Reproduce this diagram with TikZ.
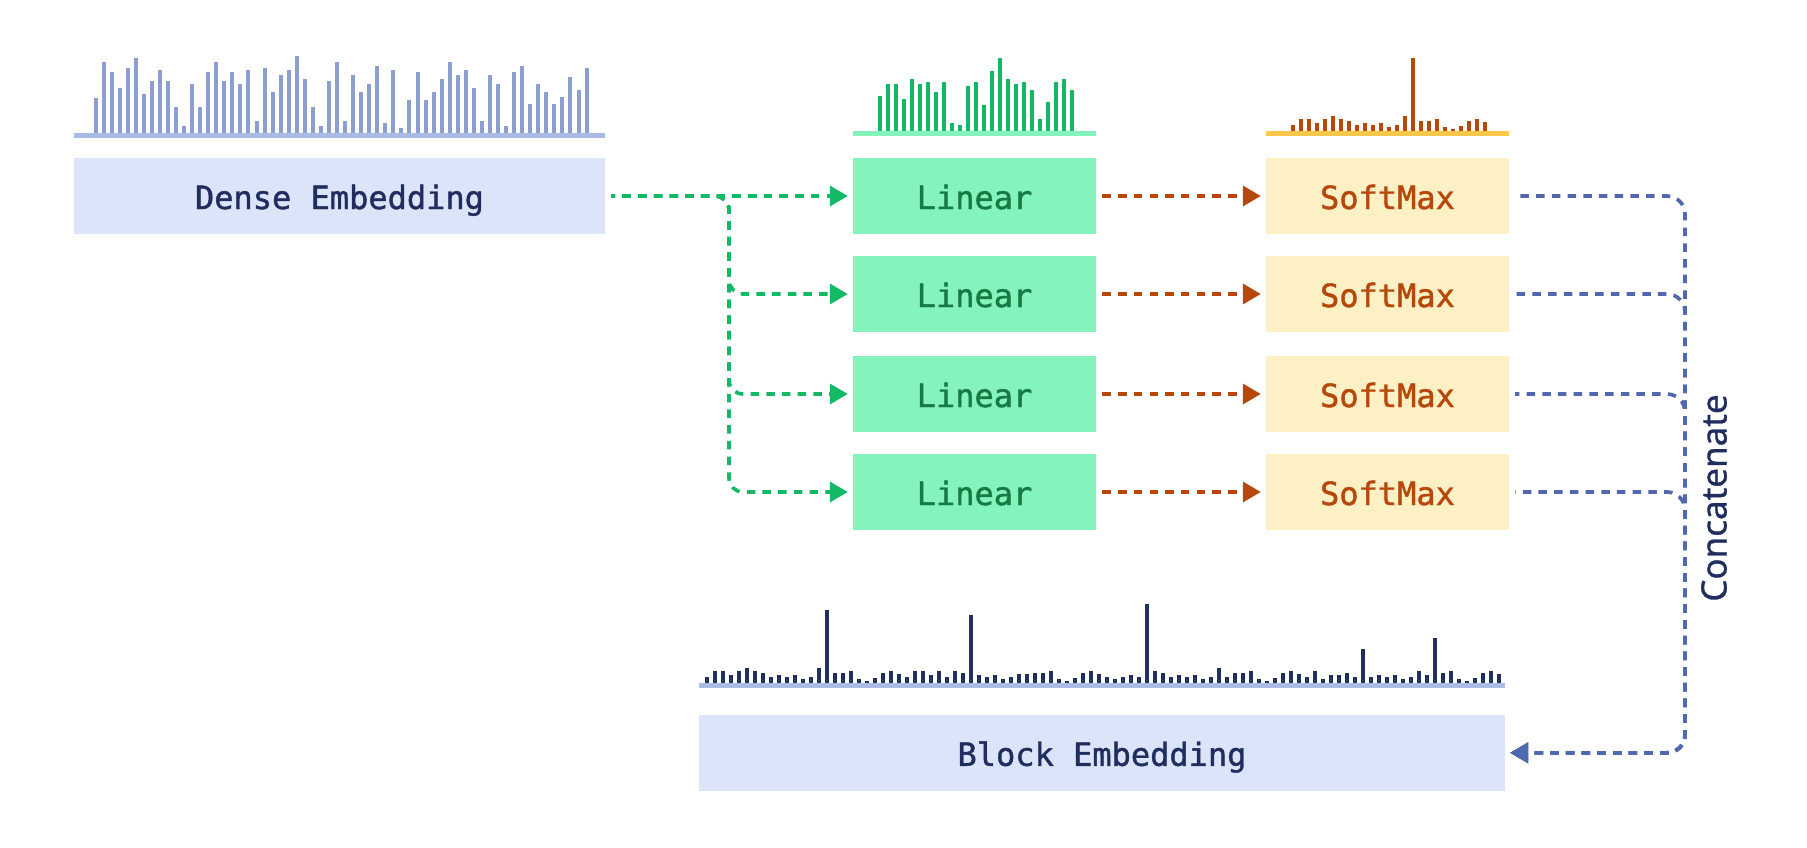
\documentclass[tikz,border=0pt]{standalone}
\usepackage{fontspec}
\newfontfamily\monomed{DejaVu Sans Mono}[FakeBold=1.3]
\newfontfamily\concatfont{Noto Sans}[FakeBold=0.8]
\usetikzlibrary{arrows.meta}
\definecolor{densebox}{HTML}{DBE4F8}
\definecolor{denseline}{HTML}{AABBE6}
\definecolor{densebar}{HTML}{8C9FD0}
\definecolor{navy}{HTML}{1F2E5E}
\definecolor{linbox}{HTML}{84F4BC}
\definecolor{lintext}{HTML}{177A45}
\definecolor{green}{HTML}{13B965}
\definecolor{softbox}{HTML}{FEF0C5}
\definecolor{rust}{HTML}{B5480A}
\definecolor{gold}{HTML}{FFC84A}
\definecolor{blueconn}{HTML}{5068AE}
\definecolor{blockbar}{HTML}{1F2F62}
\begin{document}
\begin{tikzpicture}[x=1pt,y=-1pt,
  box/.style={rectangle, inner sep=0pt, minimum height=75.7pt, text height=26pt, text depth=0pt,
    font=\monomed\fontsize{32}{32}\selectfont},
  densestyle/.style={box, fill=densebox, text=navy},
  linstyle/.style={box, fill=linbox, text=lintext, minimum width=243pt},
  softstyle/.style={box, fill=softbox, text=rust, minimum width=243pt},
  conn/.style={line width=3.6pt, dash pattern=on 8.5pt off 7.2pt},
  backconn/.style={conn, dash phase=8.5pt,
    {Triangle[length=18pt,width=20pt]}-, shorten <=5pt, shorten >=6pt},
  foreconn/.style={conn, dash phase=4.5pt,
    -{Triangle[length=18pt,width=20pt]}, shorten >=5pt, shorten <=6pt},
  gconn/.style={foreconn, draw=green, rounded corners=14pt},
  rconn/.style={backconn, draw=rust},
  bconn/.style={backconn, draw=blueconn, rounded corners=18pt},
]
\fill[white] (0,0) rectangle (1807,847);
\useasboundingbox (0,0) rectangle (1807,847);

% dense embedding
\fill[denseline] (74,133) rectangle (605,137.5);
\foreach \h [count=\i from 0] in {35.3,71.3,61.3,45.3,65.3,75.3,39.3,52.3,63.3,52.3,26.3,7.3,49.3,26.3,61.3,71.3,52.3,61.3,49.3,63.3,12.3,65.3,41.3,58.3,63.3,77.3,54.3,26.3,7.3,52.3,71.3,12.3,58.3,41.3,49.3,67.3,10.3,63.3,5.3,33.3,61.3,33.3,41.3,54.3,71.3,58.3,63.3,45.3,12.3,58.3,49.3,7.3,61.3,67.3,29.3,49.3,41.3,29.3,36.3,56.3,43.3,65.3}
  \fill[densebar] ({95.5+8.05*\i-2},133) rectangle ({95.5+8.05*\i+2},{133-\h});
\node[densestyle, minimum width=531pt] (dense) at (339.5,196) {Dense Embedding};

% linear histogram
\fill[linbox] (853,131) rectangle (1096,135.7);
\foreach \h [count=\i from 0] in {35,47,47,32,52,47,49,39,49,8,6,45,49,26,60,73,52,47,49,41,12,29,49,52,41}
  \fill[green] ({879.7+8*\i-2},131) rectangle ({879.7+8*\i+2},{131-\h});

% softmax histogram
\fill[gold] (1266,131) rectangle (1509,135.7);
\foreach \h [count=\i from 0] in {6,12,12,8,12,15,12,10,6,8,6,8,4,6,15,73,10,10,12,4,2,5,10,12,9}
  \fill[rust] ({1293+8*\i-2},131) rectangle ({1293+8*\i+2},{131-\h});

% block histogram
\fill[denseline] (699,683) rectangle (1505,687.7);
\foreach \h [count=\i from 0] in {18,36,36,24,36,45,36,30,18,24,18,24,12,18,45,219,30,30,36,12,6,15,30,36,27,18,36,36,24,36,18,36,30,204,24,18,24,12,18,27,27,30,30,36,12,6,15,30,36,27,18,12,18,24,18,237,36,30,18,24,18,24,12,18,45,18,30,30,36,12,6,15,30,36,27,18,36,12,24,24,30,18,102,18,24,18,24,12,18,36,24,135,30,36,12,6,15,30,36,27}
  \fill[blockbar] ({707+8*\i-2},683) rectangle ({707+8*\i+2},{683-\h/3});

% boxes
\node[linstyle] (L1) at (974.5,196) {Linear};
\node[linstyle] (L2) at (974.5,294) {Linear};
\node[linstyle] (L3) at (974.5,394) {Linear};
\node[linstyle] (L4) at (974.5,492) {Linear};
\node[softstyle] (S1) at (1387.5,196) {SoftMax};
\node[softstyle] (S2) at (1387.5,294) {SoftMax};
\node[softstyle] (S3) at (1387.5,394) {SoftMax};
\node[softstyle] (S4) at (1387.5,492) {SoftMax};
\node[densestyle, minimum width=806pt] (block) at (1102,752.8) {Block Embedding};

\node[rotate=90, inner sep=0pt, text=navy, font=\concatfont\fontsize{35}{35}\selectfont] (concat) at (1714,498) {Concatenate};

% connectors
\coordinate (gtop) at (729,196);
\coordinate (bbot) at (1685,752.8);
\draw[gconn] (dense.east) -- (L1.west);
\foreach \k in {2,3,4}
  \draw[gconn] (dense.east) -- (gtop) -- (gtop |- L\k.west) -- (L\k.west);
\foreach \k in {1,2,3,4}
  \draw[rconn] (S\k.west) -- (L\k.east);
\foreach \k in {1,2,3,4}
  \draw[bconn] (block.east) -- (bbot) -- (bbot |- S\k.east) -- (S\k.east);
\end{tikzpicture}
\end{document}
